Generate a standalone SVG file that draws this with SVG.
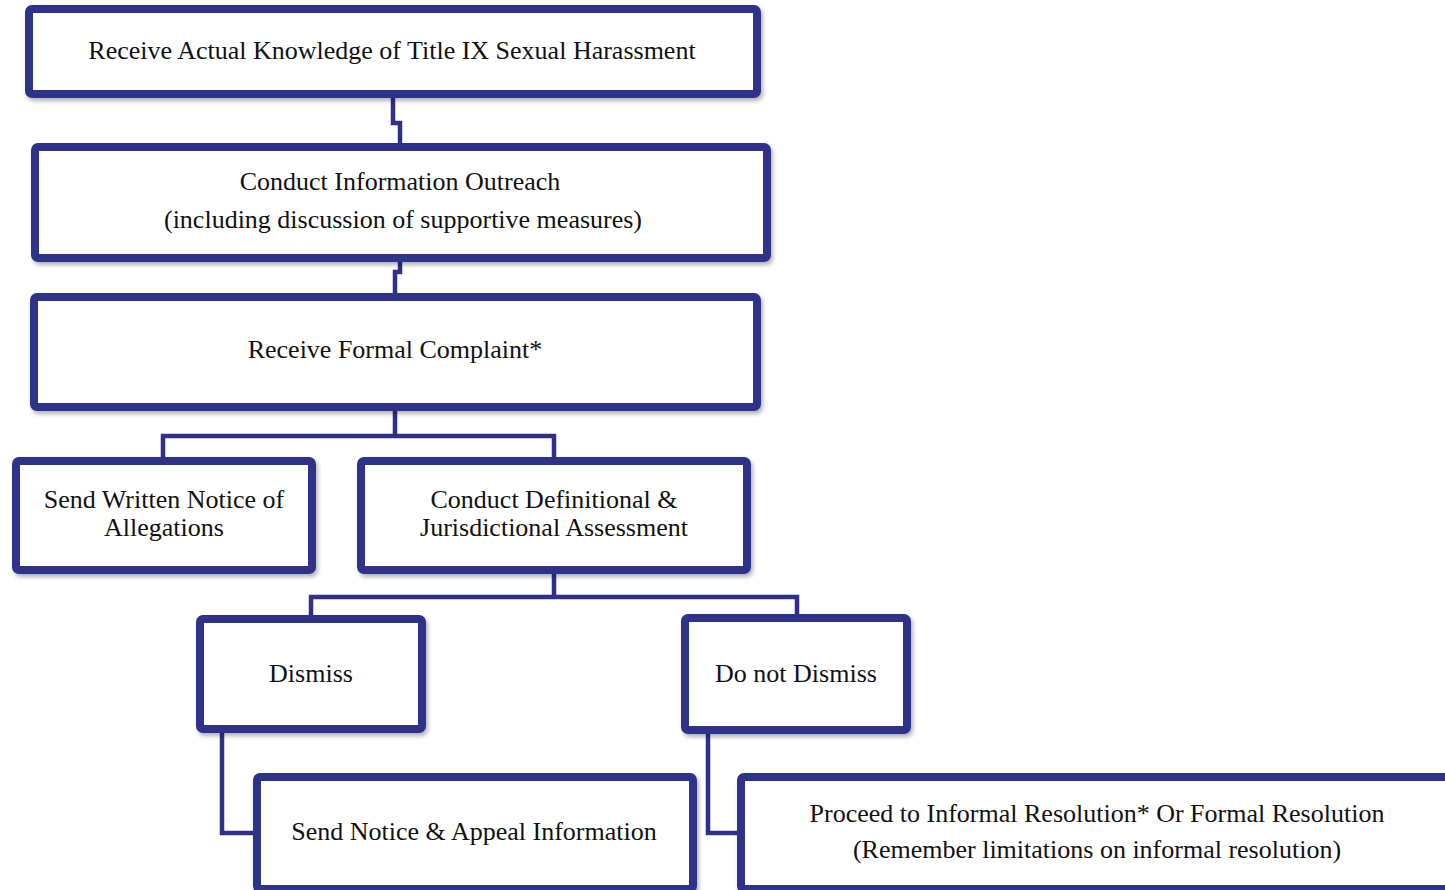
<svg xmlns="http://www.w3.org/2000/svg" width="1445" height="890" viewBox="0 0 1445 890">
<style>
.box{fill:#ffffff;stroke:#2E3089;stroke-width:8;filter:url(#sh)}
.conn{fill:none;stroke:#2E3089;stroke-width:4.5;stroke-linejoin:miter}
text{font-family:"Liberation Serif","Times New Roman",serif;font-size:26px;fill:#111;text-anchor:middle}
</style>
<defs>
<filter id="sh" x="-5%" y="-10%" width="110%" height="125%">
<feDropShadow dx="2" dy="3" stdDeviation="2" flood-color="#000" flood-opacity="0.3"/>
</filter>
</defs>
<g id="connectors">
<path class="conn" d="M393 96 V123 H400 V149"/>
<path class="conn" d="M400 260 V272 H395 V299"/>
<path class="conn" d="M395 409 V436 M163 459 V436 H554 V459"/>
<path class="conn" d="M554 572 V597 M311 617 V597 H797 V616"/>
<path class="conn" d="M222 731 V833 H255"/>
<path class="conn" d="M708 732 V833 H739"/>
</g>
<g id="n1"><rect class="box" x="29" y="9" width="728" height="85" rx="3"/><text x="392" y="59">Receive Actual Knowledge of Title IX Sexual Harassment</text></g>
<g id="n2"><rect class="box" x="35" y="147" width="732" height="111" rx="3"/><text x="400" y="190">Conduct Information Outreach</text><text x="403" y="228">(including discussion of supportive measures)</text></g>
<g id="n3"><rect class="box" x="34" y="297" width="723" height="110" rx="3"/><text x="395" y="358">Receive Formal Complaint*</text></g>
<g id="n4"><rect class="box" x="16" y="461" width="296" height="109" rx="3"/><text x="164" y="508">Send Written Notice of</text><text x="164" y="536">Allegations</text></g>
<g id="n5"><rect class="box" x="361" y="461" width="386" height="109" rx="3"/><text x="554" y="508">Conduct Definitional &amp;</text><text x="554" y="536">Jurisdictional Assessment</text></g>
<g id="n6"><rect class="box" x="200" y="619" width="222" height="110" rx="3"/><text x="311" y="682">Dismiss</text></g>
<g id="n7"><rect class="box" x="685" y="618" width="222" height="112" rx="3"/><text x="796" y="682">Do not Dismiss</text></g>
<g id="n8"><rect class="box" x="257" y="777" width="436" height="112" rx="3"/><text x="474" y="840">Send Notice &amp; Appeal Information</text></g>
<g id="n9"><rect class="box" x="741" y="777" width="720" height="112" rx="3"/><text x="1097" y="822">Proceed to Informal Resolution* Or Formal Resolution</text><text x="1097" y="858">(Remember limitations on informal resolution)</text></g>
</svg>
